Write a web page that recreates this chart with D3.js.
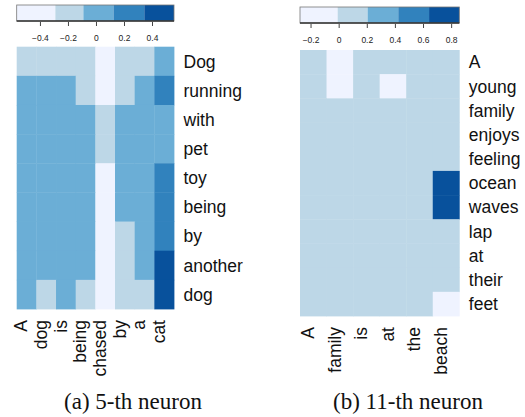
<!DOCTYPE html>
<html>
<head>
<meta charset="utf-8">
<script src="https://cdn.jsdelivr.net/npm/d3@7"></script>
<style>
  body { margin: 0; background: #fff; }
  svg { display: block; }
</style>
</head>
<body>
<div class="container"></div>
<script>
// DATA
// (a) 5-th neuron: columns are the words of the premise, rows the words of the hypothesis
const colsA = ["A", "dog", "is", "being", "chased", "by", "a", "cat"];
const rowsA = ["Dog", "running", "with", "pet", "toy", "being", "by", "another", "dog"];
const valuesA = [
  [-0.19, -0.19, -0.19, -0.19, -0.45, -0.18, -0.18,  0.02],
  [ 0.01,  0.01,  0.01, -0.17, -0.46, -0.17,  0.02,  0.24],
  [ 0.03,  0.03,  0.03,  0.03, -0.2,   0.03,  0.03,  0.04],
  [ 0.03,  0.03,  0.03,  0.03, -0.2,   0.03,  0.03,  0.05],
  [ 0.02,  0.02,  0.02,  0.02, -0.47,  0.02,  0.02,  0.25],
  [ 0.02,  0.02,  0.02,  0.02, -0.47,  0.02,  0.02,  0.26],
  [ 0.01,  0.01,  0.01,  0.01, -0.48, -0.16,  0.01,  0.3],
  [ 0.0,   0.0,   0.0,   0.0,  -0.48, -0.16,  0.0,   0.45],
  [ 0.0,  -0.15,  0.0,  -0.15, -0.5,  -0.15, -0.15,  0.5]
];
const breaksA = [-0.566, -0.29, -0.09, 0.125, 0.345, 0.557];
const ticksA = [-0.4, -0.2, 0, 0.2, 0.4];

// (b) 11-th neuron
const colsB = ["A", "family", "is", "at", "the", "beach"];
const rowsB = ["A", "young", "family", "enjoys", "feeling", "ocean", "waves", "lap", "at", "their", "feet"];
const valuesB = [
  [0.1, -0.1, 0.1,  0.1, 0.1,  0.1],
  [0.1, -0.1, 0.1, -0.1, 0.1,  0.1],
  [0.1,  0.1, 0.1,  0.1, 0.1,  0.1],
  [0.1,  0.1, 0.1,  0.1, 0.1,  0.1],
  [0.1,  0.1, 0.1,  0.1, 0.1,  0.1],
  [0.1,  0.1, 0.1,  0.1, 0.1,  0.78],
  [0.1,  0.1, 0.1,  0.1, 0.1,  0.76],
  [0.1,  0.1, 0.1,  0.1, 0.1,  0.1],
  [0.1,  0.1, 0.1,  0.1, 0.1,  0.1],
  [0.1,  0.1, 0.1,  0.1, 0.1,  0.1],
  [0.1,  0.1, 0.1,  0.1, 0.1, -0.12]
];
const breaksB = [-0.275, -0.007, 0.206, 0.424, 0.643, 0.858];
const ticksB = [-0.2, 0, 0.2, 0.4, 0.6, 0.8];

const blues = ["#eff3ff", "#bdd7e7", "#6baed6", "#3182bd", "#08519c"];

// FRAME
const width = 525, height = 417;
const svg = d3.select(".container")
  .append("svg")
  .attr("width", width)
  .attr("height", height);

const sans = "'Liberation Sans', Arial, Helvetica, sans-serif";
const serif = "'Liberation Serif', 'Times New Roman', serif";

// draw one panel: colour key on top, heatmap, word labels and caption
function drawPanel(cfg) {
  const g = svg.append("g");

  const x = d3.scaleBand().domain(d3.range(cfg.cols.length)).range([cfg.left, cfg.right]);
  const y = d3.scaleBand().domain(d3.range(cfg.rows.length)).range([cfg.top, cfg.bottom]);
  const color = d3.scaleThreshold()
    .domain(cfg.breaks.slice(1, -1))
    .range(blues);

  // HEATMAP
  const cells = cfg.values.flatMap((row, r) => row.map((v, c) => ({ r, c, v })));
  g.append("g")
    .selectAll("rect")
    .data(cells)
    .join("rect")
    .attr("x", d => x(d.c))
    .attr("y", d => y(d.r))
    .attr("width", x.bandwidth() + 0.4)
    .attr("height", y.bandwidth() + 0.4)
    .attr("fill", d => color(d.v));

  // ROW LABELS (right side)
  g.append("g")
    .selectAll("text")
    .data(cfg.rows)
    .join("text")
    .attr("x", cfg.right + 9.5)
    .attr("y", (d, i) => y(i) + y.bandwidth() / 2)
    .attr("dy", "0.36em")
    .attr("font-family", sans)
    .attr("font-size", 17.5)
    .attr("fill", "#111")
    .text(d => d);

  // COLUMN LABELS (rotated, below)
  g.append("g")
    .selectAll("text")
    .data(cfg.cols)
    .join("text")
    .attr("transform", (d, i) => `translate(${x(i) + x.bandwidth() / 2 + 0.8}, ${cfg.bottom + 11}) rotate(-90)`)
    .attr("text-anchor", "end")
    .attr("font-family", sans)
    .attr("font-size", 17.5)
    .attr("fill", "#111")
    .text(d => d);

  // LEGEND (colour key)
  const k = d3.scaleLinear()
    .domain([cfg.breaks[0], cfg.breaks[cfg.breaks.length - 1]])
    .range([cfg.left, cfg.right]);
  const key = g.append("g");
  key.selectAll("rect")
    .data(blues)
    .join("rect")
    .attr("x", (d, i) => k(cfg.breaks[i]))
    .attr("y", cfg.barTop)
    .attr("width", (d, i) => k(cfg.breaks[i + 1]) - k(cfg.breaks[i]))
    .attr("height", 16)
    .attr("fill", d => d);
  key.append("rect")
    .attr("x", cfg.left)
    .attr("y", cfg.barTop)
    .attr("width", cfg.right - cfg.left)
    .attr("height", 16)
    .attr("fill", "none")
    .attr("stroke", "#777")
    .attr("stroke-width", 0.8);
  key.append("line")
    .attr("x1", cfg.left)
    .attr("x2", cfg.right)
    .attr("y1", cfg.barTop + 16)
    .attr("y2", cfg.barTop + 16)
    .attr("stroke", "#333")
    .attr("stroke-width", 1.3);

  const axis = key.append("g")
    .attr("transform", `translate(0, ${cfg.barTop + 17})`)
    .call(d3.axisBottom(k).tickValues(cfg.ticks).tickSize(4).tickPadding(9).tickFormat(d3.format("~g")));
  axis.select(".domain").remove();
  axis.selectAll(".tick line").attr("stroke", "#444");
  axis.selectAll(".tick text")
    .attr("font-family", sans)
    .attr("font-size", 8.5)
    .attr("fill", "#222");

  // CAPTION
  g.append("text")
    .attr("x", cfg.captionX)
    .attr("y", 409)
    .attr("text-anchor", "middle")
    .attr("font-family", serif)
    .attr("font-size", 23)
    .attr("fill", "#111")
    .text(cfg.caption);
}

drawPanel({
  cols: colsA, rows: rowsA, values: valuesA, breaks: breaksA, ticks: ticksA,
  left: 16.7, right: 174, top: 46.7, bottom: 309, barTop: 5,
  captionX: 133, caption: "(a) 5-th neuron"
});

drawPanel({
  cols: colsB, rows: rowsB, values: valuesB, breaks: breaksB, ticks: ticksB,
  left: 300, right: 459.3, top: 50, bottom: 316, barTop: 7,
  captionX: 408, caption: "(b) 11-th neuron"
});
</script>
</body>
</html>
